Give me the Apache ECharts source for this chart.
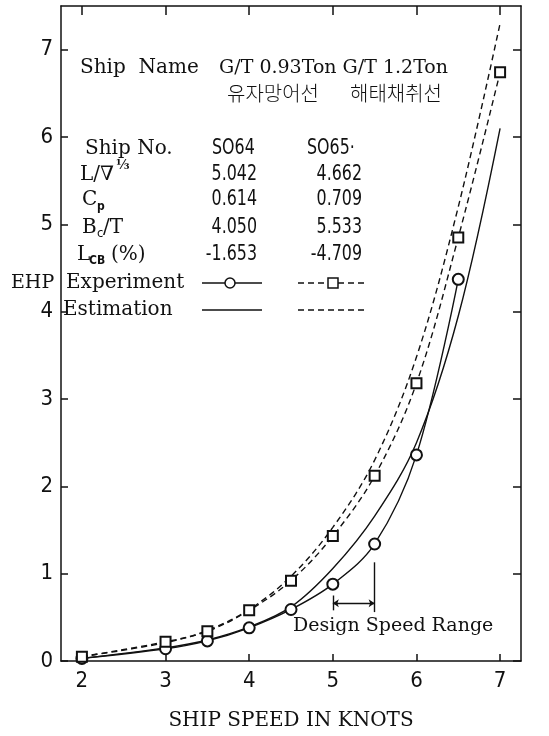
<!DOCTYPE html>
<html>
<head>
<meta charset="utf-8">
<script src="https://cdn.jsdelivr.net/npm/echarts@6/dist/echarts.min.js"></script>
<style>html,body{margin:0;padding:0;background:#fff}#c{width:549px;height:736px}</style>
</head>
<body>
<div id="c"></div>
<script>
// ---- data ----
const speeds = [2, 3, 3.5, 4, 4.5, 5, 5.5, 6, 6.5, 7];
const so64Experiment = [0.03, 0.14, 0.23, 0.38, 0.59, 0.88, 1.34, 2.36, 4.37];
const so65Experiment = [0.05, 0.22, 0.34, 0.58, 0.92, 1.43, 2.12, 3.18, 4.85, 6.74];
const so64Estimation = [0.03, 0.15, 0.24, 0.39, 0.62, 1.06, 1.66, 2.5, 3.95, 6.1];
const so65Estimation = [0.05, 0.21, 0.35, 0.59, 0.97, 1.53, 2.3, 3.48, 5.2, 7.3];
const xTicks = [2, 3, 4, 5, 6, 7];
const yTicks = [0, 1, 2, 3, 4, 5, 6, 7];
const designRange = [5, 5.5];

const pair = (xs, ys) => ys.map((v, i) => [xs[i], v]);
const SERIF = 'DejaVu Serif';
const NUM = 'DejaVu Sans Condensed, DejaVu Sans';
const INK = '#111';

function txt(x, y, text, font, align, sx) {
  return { type: 'text', x: x, y: y, silent: true, scaleX: sx || 1,
    style: { text: text, font: font, fill: INK, align: align || 'left', verticalAlign: 'middle',
             textAlign: align || 'left', textVerticalAlign: 'middle' } };
}
function seg(x1, y1, x2, y2, dash) {
  return { type: 'line', silent: true, shape: { x1, y1, x2, y2 },
    style: { stroke: INK, lineWidth: 1.5, lineDash: dash || null } };
}
const NS = 0.84;

const graphics = [
  txt(80, 68, 'Ship  Name', '20px ' + SERIF),
  txt(448, 68, 'G/T 0.93Ton G/T 1.2Ton', '19px ' + SERIF, 'right'),
  txt(227, 93, '유자망어선', '300 20px Noto Sans CJK KR'),
  txt(350, 93, '해태채취선', '300 20px Noto Sans CJK KR'),
  txt(85, 149, 'Ship No.', '20px ' + SERIF),
  txt(212, 149, 'SO64', '21px ' + NUM, 'left', NS),
  txt(307, 149, 'SO65·', '21px ' + NUM, 'left', NS),
  txt(80, 175, 'L/∇', '20px ' + SERIF),
  txt(116, 166, '⅓', 'bold 13px ' + SERIF),
  txt(257, 175, '5.042', '21px ' + NUM, 'right', NS),
  txt(362, 175, '4.662', '21px ' + NUM, 'right', NS),
  txt(82, 200, 'C', '20px ' + SERIF),
  txt(97, 207, 'p', 'bold 12px ' + NUM),
  txt(257, 200, '0.614', '21px ' + NUM, 'right', NS),
  txt(362, 200, '0.709', '21px ' + NUM, 'right', NS),
  txt(82, 228, 'B', '20px ' + SERIF),
  txt(97, 234, 'c', '13px ' + NUM),
  txt(103, 228, '/T', '20px ' + SERIF),
  txt(257, 228, '4.050', '21px ' + NUM, 'right', NS),
  txt(362, 228, '5.533', '21px ' + NUM, 'right', NS),
  txt(77, 255, 'L', '20px ' + SERIF),
  txt(89, 261, 'CB', 'bold 12px ' + NUM),
  txt(111, 255, '(%)', '20px ' + SERIF),
  txt(257, 255, '-1.653', '21px ' + NUM, 'right', NS),
  txt(362, 255, '-4.709', '21px ' + NUM, 'right', NS),
  txt(11, 283, 'EHP', '19px ' + SERIF),
  txt(66, 283, 'Experiment', '20px ' + SERIF),
  txt(63, 310, 'Estimation', '20px ' + SERIF),
  seg(202, 283, 262, 283),
  { type: 'circle', silent: true, shape: { cx: 230, cy: 283, r: 5 }, style: { fill: '#fff', stroke: INK, lineWidth: 1.5 } },
  seg(298, 283, 368, 283, [6, 4]),
  { type: 'rect', silent: true, shape: { x: 328, y: 278, width: 10, height: 10 }, style: { fill: '#fff', stroke: INK, lineWidth: 1.5 } },
  seg(202, 310, 262, 310),
  seg(298, 310, 368, 310, [6, 4]),
  txt(293, 626, 'Design Speed Range', '19px ' + SERIF)
];

const chart = echarts.init(document.getElementById('c'), null, { renderer: 'canvas' });
const axisLineStyle = { color: INK, width: 1.5 };
chart.setOption({
  animation: false,
  backgroundColor: '#fff',
  grid: { left: 61, right: 28, top: 6, bottom: 74 },
  xAxis: [
    { type: 'value', min: 1.75, max: 7.25, position: 'bottom',
      axisLine: { show: true, onZero: false, lineStyle: axisLineStyle },
      axisTick: { show: true, inside: true, length: 7, lineStyle: axisLineStyle, customValues: xTicks },
      axisLabel: { show: true, margin: 9, color: INK, fontSize: 22, fontFamily: NUM, customValues: xTicks },
      splitLine: { show: false },
      name: 'SHIP SPEED IN KNOTS', nameLocation: 'middle', nameGap: 50,
      nameTextStyle: { fontFamily: SERIF, fontSize: 20, color: INK } },
    { type: 'value', min: 1.75, max: 7.25, position: 'top',
      axisLine: { show: true, onZero: false, lineStyle: axisLineStyle },
      axisTick: { show: true, inside: true, length: 9, lineStyle: axisLineStyle, customValues: xTicks },
      axisLabel: { show: false }, splitLine: { show: false } }
  ],
  yAxis: [
    { type: 'value', min: 0, max: 7.5, position: 'left',
      axisLine: { show: true, onZero: false, lineStyle: axisLineStyle },
      axisTick: { show: true, inside: true, length: 7, lineStyle: axisLineStyle, customValues: yTicks },
      axisLabel: { show: true, margin: 8, color: INK, fontSize: 22, fontFamily: NUM, customValues: yTicks },
      splitLine: { show: false } },
    { type: 'value', min: 0, max: 7.5, position: 'right',
      axisLine: { show: true, onZero: false, lineStyle: axisLineStyle },
      axisTick: { show: true, inside: true, length: 8, lineStyle: axisLineStyle, customValues: yTicks },
      axisLabel: { show: false }, splitLine: { show: false } }
  ],
  series: [
    { name: 'SO64 Estimation', type: 'line', data: pair(speeds, so64Estimation),
      smooth: 0.35, showSymbol: false, symbol: 'none',
      lineStyle: { color: INK, width: 1.4 }, silent: true, z: 2,
      markLine: { silent: true, symbol: 'none', label: { show: false },
        lineStyle: { color: INK, width: 1.4, type: 'solid' },
        data: [
          [{ coord: [designRange[1], 0.56] }, { coord: [designRange[1], 1.13] }],
          [{ coord: [designRange[0], 0.66], symbol: 'arrow', symbolSize: 6 },
           { coord: [designRange[1], 0.66], symbol: 'arrow', symbolSize: 6 }],
          [{ coord: [designRange[0], 0.58] }, { coord: [designRange[0], 0.75] }]
        ] } },
    { name: 'SO65 Estimation', type: 'line', data: pair(speeds, so65Estimation),
      smooth: 0.35, showSymbol: false, symbol: 'none',
      lineStyle: { color: INK, width: 1.4, type: [6, 4] }, silent: true, z: 2 },
    { name: 'SO64 Experiment', type: 'line', data: pair(speeds, so64Experiment),
      smooth: 0.35, symbol: 'emptyCircle', symbolSize: 11, showAllSymbol: true,
      itemStyle: { color: INK, borderColor: INK, borderWidth: 1.5 },
      lineStyle: { color: INK, width: 1.4 }, silent: true, z: 3 },
    { name: 'SO65 Experiment', type: 'line', data: pair(speeds, so65Experiment),
      smooth: 0.35, symbol: 'emptyRect', symbolSize: 10, showAllSymbol: true,
      itemStyle: { color: INK, borderColor: INK, borderWidth: 1.5 },
      lineStyle: { color: INK, width: 1.4, type: [6, 4] }, silent: true, z: 3 }
  ],
  graphic: graphics
});
</script>
</body>
</html>
